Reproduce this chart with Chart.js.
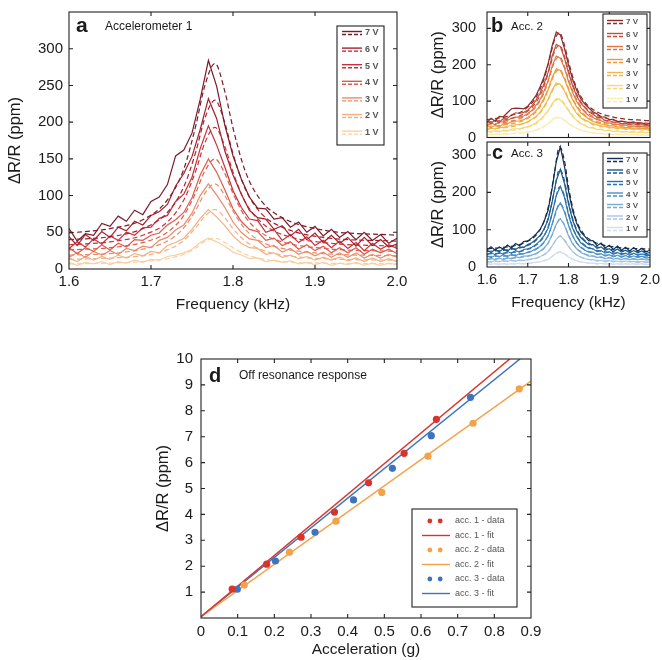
<!DOCTYPE html>
<html>
<head>
<meta charset="utf-8">
<script src="https://cdn.jsdelivr.net/npm/chart.js@4.4.0/dist/chart.umd.min.js"></script>
<style>
  body { margin: 0; background: #fff; width: 662px; height: 660px; overflow: hidden; position: relative; }
  canvas { position: absolute; }
</style>
</head>
<body>
<canvas id="chartA" width="410" height="320" style="left:0px;top:0px"></canvas>
<canvas id="chartB" width="242" height="148" style="left:420px;top:0px"></canvas>
<canvas id="chartC" width="242" height="190" style="left:420px;top:130px"></canvas>
<canvas id="chartD" width="402" height="320" style="left:140px;top:340px"></canvas>
<script>
// ---- data ----
const voltages = ['7 V', '6 V', '5 V', '4 V', '3 V', '2 V', '1 V'];

const freq = [1.60, 1.61, 1.62, 1.63, 1.64, 1.65, 1.66, 1.67, 1.68, 1.69, 1.70,
  1.71, 1.72, 1.73, 1.74, 1.75, 1.76, 1.77, 1.78, 1.79, 1.80,
  1.81, 1.82, 1.83, 1.84, 1.85, 1.86, 1.87, 1.88, 1.89, 1.90,
  1.91, 1.92, 1.93, 1.94, 1.95, 1.96, 1.97, 1.98, 1.99, 2.00];
const fitFreq = [1.60, 1.65, 1.69, 1.72, 1.74, 1.755, 1.765, 1.778, 1.79, 1.80, 1.815, 1.835, 1.86, 1.91, 2.00];

const freqTicks = [1.6, 1.7, 1.8, 1.9, 2.0];
const acc1Ticks = [0, 50, 100, 150, 200, 250, 300];
const acc23Ticks = [0, 100, 200, 300];
const accelTicks = [0, 0.1, 0.2, 0.3, 0.4, 0.5, 0.6, 0.7, 0.8, 0.9];
const responseTicks = [1, 2, 3, 4, 5, 6, 7, 8, 9, 10];

// accelerometer 1 (7 V ... 1 V)
const acc1Data = [
  [55,38,48,46,62,58,72,65,80,74,92,98,115,154,162,185,231,284,249,196,154,123,98,83,82,68,70,57,64,50,58,45,54,43,51,40,50,39,47,35,42],
  [44,32,47,39,51,43,57,52,65,60,73,78,88,113,130,153,190,232,205,161,128,102,80,70,68,54,59,45,54,40,49,36,46,35,43,31,43,32,40,30,34],
  [28,37,30,41,34,45,39,50,46,56,57,69,73,92,102,125,164,195,169,139,107,84,68,66,50,54,39,47,36,44,32,39,29,38,28,36,25,35,27,33,28],
  [29,21,29,24,33,26,35,30,40,39,46,49,60,67,77,97,128,150,132,108,82,65,54,51,39,42,32,37,27,33,25,31,22,29,22,29,20,27,22,27,21],
  [16,22,16,24,19,25,20,28,25,31,29,39,43,53,60,76,100,116,101,84,64,50,41,39,29,32,23,28,20,24,18,23,16,22,16,22,15,20,15,20,16],
  [15,10,17,12,17,13,19,15,21,18,24,22,32,36,42,54,69,81,71,59,45,35,29,28,20,22,16,19,14,17,12,16,12,16,11,15,10,15,10,14,10],
  [9,5,9,7,10,6,10,8,12,9,13,12,17,19,22,27,36,42,37,31,23,19,14,15,10,12,9,11,7,9,6,9,5,8,6,9,5,8,5,8,6]
];
const acc1Fit = [
  [49,55,67,94,136,197,247,280,242,192,133,92,70,53,46],
  [40,44,55,77,112,161,203,230,199,157,109,75,57,43,38],
  [33,37,46,64,94,135,170,193,167,132,91,63,47,36,31],
  [26,29,36,50,73,105,132,150,130,103,71,49,37,28,24],
  [19,21,27,38,56,81,102,116,100,79,54,37,28,21,18],
  [13,15,18,26,39,57,71,81,70,55,38,26,19,14,12],
  [7,8,10,14,20,29,37,42,36,29,20,14,10,8,7]
];

// accelerometer 2
const acc2Data = [
  [42,53,45,58,57,68,79,81,80,79,86,100,115,139,167,203,253,290,282,245,200,160,130,107,92,81,71,65,57,56,49,50,44,45,43,40,43,38,40,36,38],
  [45,39,48,42,52,53,62,68,66,69,75,87,102,121,148,179,224,256,250,218,178,143,114,95,82,70,64,56,54,47,46,42,42,38,39,36,38,34,35,34,33],
  [32,40,35,43,43,47,53,56,56,59,66,74,88,104,128,156,197,224,218,191,154,124,99,82,70,60,55,49,46,41,40,36,36,34,34,31,32,30,30,29,29],
  [32,27,34,29,38,38,43,45,46,49,55,63,73,88,108,132,165,189,184,161,131,104,84,68,59,51,44,41,37,35,32,32,29,29,27,27,26,26,25,25,24],
  [20,26,23,28,28,31,33,35,36,39,43,50,58,69,86,105,131,150,146,128,104,83,66,54,46,44,35,36,29,31,26,28,23,27,22,25,21,24,20,23,19],
  [18,14,19,15,20,18,23,24,24,27,30,34,40,49,60,74,93,107,103,90,73,58,47,38,34,27,27,21,23,18,20,16,18,15,17,14,16,13,16,12,15],
  [9,7,9,8,10,9,11,11,13,13,16,17,21,25,31,38,49,56,54,47,38,30,25,19,18,14,14,11,12,9,11,8,10,7,9,7,9,7,8,6,8]
];
const acc2Fit = [
  [49,58,75,110,161,222,266,288,254,209,151,105,77,56,46],
  [42,50,65,96,141,196,234,254,224,184,132,91,67,48,39],
  [36,43,57,84,123,172,206,223,196,161,116,79,58,41,34],
  [30,36,47,70,104,145,173,188,165,136,97,67,48,35,28],
  [24,28,38,56,82,115,137,149,131,107,77,53,38,27,22],
  [16,19,25,38,58,81,98,106,93,76,54,36,26,18,14],
  [8,10,13,20,30,42,51,55,48,39,28,19,13,9,7]
];

// accelerometer 3
const acc3Data = [
  [46,54,45,54,48,59,51,63,57,68,70,78,88,100,122,152,212,282,322,270,204,151,117,94,82,70,71,57,64,51,58,47,56,45,53,43,52,43,50,41,45],
  [45,39,47,41,49,43,51,47,54,52,60,65,74,84,101,127,175,232,262,224,169,126,97,79,69,60,60,50,54,45,49,41,48,40,45,38,44,38,43,36,39],
  [32,38,33,39,34,42,37,44,40,47,49,53,60,70,84,104,144,192,216,187,140,104,81,65,56,50,49,41,44,37,41,34,39,33,37,31,37,31,35,31,31],
  [30,25,31,27,33,28,34,30,36,35,40,43,49,55,67,83,115,153,172,148,112,83,64,52,45,40,40,33,36,29,33,27,32,26,31,25,30,25,29,24,26],
  [19,23,20,24,20,25,22,27,25,29,30,32,36,42,51,63,87,115,130,112,84,62,49,39,34,29,30,25,28,22,26,21,24,20,24,19,23,19,22,19,19],
  [15,13,17,14,17,15,18,15,19,17,20,22,24,28,33,41,57,74,84,71,55,41,32,26,22,20,20,16,18,14,17,14,16,13,16,13,15,12,15,12,14],
  [9,7,9,7,9,7,9,8,10,8,11,11,13,14,17,20,29,37,41,35,27,20,17,13,12,10,11,8,10,8,9,7,9,7,9,7,9,7,9,7,7]
];
const acc3Fit = [
  [49,54,64,85,123,184,250,322,285,215,139,92,69,54,48],
  [42,46,54,71,101,151,203,262,232,175,114,77,58,46,41],
  [35,38,44,58,83,124,167,215,191,144,94,63,48,38,33],
  [28,30,36,47,66,98,132,170,151,114,74,50,38,30,27],
  [21,23,27,35,50,74,100,128,114,86,56,38,29,23,20],
  [14,16,18,23,33,48,65,83,73,56,37,25,19,16,14],
  [8,8,9,12,17,24,32,41,36,28,19,13,10,8,7]
];

// off resonance response
const acc1AccelX = [0.085, 0.179, 0.273, 0.364, 0.457, 0.554, 0.642];
const acc1ResponseY = [1.12, 2.08, 3.12, 4.09, 5.22, 6.36, 7.67];
const acc2AccelX = [0.118, 0.241, 0.368, 0.493, 0.619, 0.742, 0.868];
const acc2ResponseY = [1.27, 2.54, 3.74, 4.85, 6.25, 7.52, 8.85];
const acc3AccelX = [0.099, 0.203, 0.311, 0.416, 0.522, 0.628, 0.735];
const acc3ResponseY = [1.11, 2.2, 3.31, 4.56, 5.78, 7.04, 8.52];
const acc1FitX = [0, 0.842], acc1FitY = [0.05, 10];
const acc2FitX = [0, 0.9],   acc2FitY = [0.05, 9.15];
const acc3FitX = [0, 0.87],  acc3FitY = [0.05, 10];

// ---- colours ----
const reds = ['#7b1a2a', '#a8202c', '#c8303a', '#dd5a4a', '#ec8a68', '#f4b080', '#f8d0a0'];
const oranges = ['#8c2d2d', '#c0503c', '#e07845', '#ec9a3a', '#f2b94a', '#f6d77a', '#faecb0'];
const blues = ['#14304f', '#1d5a8c', '#2a73ad', '#4a91c6', '#79acd4', '#a7c5e2', '#d2ddec'];
const cRed = '#d8342c', cOrange = '#f4a24a', cBlue = '#3d74bd';

const FONT = '"Liberation Sans", Arial, Helvetica, sans-serif';
const TXT = '#1a1a1a';

const fixedTicks = vals => s => { s.ticks = vals.map(v => ({ value: v })); };

// box with inward ticks on all four sides
const framePlugin = {
  id: 'frame',
  afterDatasetsDraw(chart) {
    const { ctx, chartArea: a, scales } = chart;
    ctx.save();
    ctx.strokeStyle = '#222';
    ctx.lineWidth = 1.1;
    ctx.setLineDash([]);
    ctx.strokeRect(a.left, a.top, a.right - a.left, a.bottom - a.top);
    const t = 4;
    const x = scales.x, y = scales.y;
    ctx.beginPath();
    x.ticks.forEach(tk => {
      if (tk.value <= x.min + 1e-9 || tk.value >= x.max - 1e-9) return;
      const px = x.getPixelForValue(tk.value);
      ctx.moveTo(px, a.bottom); ctx.lineTo(px, a.bottom - t);
      ctx.moveTo(px, a.top); ctx.lineTo(px, a.top + t);
    });
    y.ticks.forEach(tk => {
      if (tk.value <= y.min + 1e-9 || tk.value >= y.max - 1e-9) return;
      const py = y.getPixelForValue(tk.value);
      ctx.moveTo(a.left, py); ctx.lineTo(a.left + t, py);
      ctx.moveTo(a.right, py); ctx.lineTo(a.right - t, py);
    });
    ctx.stroke();
    ctx.restore();
  }
};

// legend box drawn by hand (double solid/dashed line keys, dots, lines)
const boxLegend = {
  id: 'boxLegend',
  afterDraw(chart, args, o) {
    if (!o.entries) return;
    const ctx = chart.ctx;
    ctx.save();
    ctx.fillStyle = '#fff';
    ctx.fillRect(o.x, o.y, o.w, o.h);
    ctx.strokeStyle = '#222';
    ctx.lineWidth = 1.1;
    ctx.strokeRect(o.x, o.y, o.w, o.h);
    ctx.font = o.font;
    ctx.textBaseline = 'middle';
    o.entries.forEach((e, i) => {
      const cy = o.y + o.first + i * o.rowH;
      const x0 = o.x + o.symX, x1 = x0 + o.symW;
      ctx.strokeStyle = e.color;
      ctx.fillStyle = e.color;
      ctx.lineWidth = 1.4;
      if (e.kind === 'double') {
        ctx.setLineDash([]);
        ctx.beginPath(); ctx.moveTo(x0, cy - 1.5); ctx.lineTo(x1, cy - 1.5); ctx.stroke();
        ctx.setLineDash([4, 2]);
        ctx.beginPath(); ctx.moveTo(x0, cy + 1.5); ctx.lineTo(x1, cy + 1.5); ctx.stroke();
        ctx.setLineDash([]);
      } else if (e.kind === 'line') {
        ctx.beginPath(); ctx.moveTo(x0, cy); ctx.lineTo(x1, cy); ctx.stroke();
      } else {
        [0.28, 0.65].forEach(f => {
          ctx.beginPath(); ctx.arc(x0 + o.symW * f, cy, 2.4, 0, Math.PI * 2); ctx.fill();
        });
      }
      ctx.fillStyle = o.textColor;
      ctx.fillText(e.label, x1 + o.gap, cy);
    });
    ctx.restore();
  }
};

// panel letters and captions
const panelText = {
  id: 'panelText',
  afterDraw(chart, args, o) {
    if (!o.items) return;
    const ctx = chart.ctx;
    ctx.save();
    ctx.textBaseline = 'alphabetic';
    o.items.forEach(it => {
      ctx.font = it.font;
      ctx.fillStyle = TXT;
      ctx.fillText(it.text, it.x, it.y);
    });
    ctx.restore();
  }
};

function spectrumChart(id, dataRows, fitRows, colors, yTicks, p) {
  const datasets = [];
  dataRows.forEach((vals, i) => {
    datasets.push({
      label: voltages[i],
      data: freq.map((f, k) => ({ x: f, y: vals[k] })),
      borderColor: colors[i], borderWidth: 1.2, pointRadius: 0, tension: 0
    });
    datasets.push({
      label: voltages[i] + ' fit',
      data: fitFreq.map((f, k) => ({ x: f, y: fitRows[i][k] })),
      borderColor: colors[i], borderWidth: 1.2, borderDash: [5, 3],
      pointRadius: 0, cubicInterpolationMode: 'monotone'
    });
  });
  return new Chart(document.getElementById(id), {
    type: 'line',
    data: { datasets },
    plugins: [framePlugin, boxLegend, panelText],
    options: {
      responsive: false, animation: false, events: [],
      layout: { padding: { left: 0, top: p.padTop, right: p.padRight, bottom: 0 } },
      plugins: {
        legend: { display: false }, tooltip: { enabled: false },
        boxLegend: Object.assign({
          entries: voltages.map((v, i) => ({ label: v, color: colors[i], kind: 'double' })),
          textColor: '#555'
        }, p.legend),
        panelText: { items: p.texts }
      },
      scales: {
        x: {
          type: 'linear', min: 1.6, max: 2.0,
          afterBuildTicks: fixedTicks(freqTicks),
          afterFit: s => { s.height = p.xh; },
          grid: { display: false, drawTicks: true, tickLength: 4 }, border: { display: false },
          ticks: {
            display: p.xLabels, autoSkip: false, maxRotation: 0,
            padding: 0, color: TXT, font: { family: FONT, size: p.tickSize },
            callback: v => v.toFixed(1)
          },
          title: {
            display: p.xLabels, text: 'Frequency (kHz)', color: TXT,
            font: { family: FONT, size: 15.5 }, padding: { top: 0, bottom: p.xTitlePad }
          }
        },
        y: {
          min: 0, max: p.ymax,
          afterBuildTicks: fixedTicks(yTicks),
          afterFit: s => { s.width = p.yw; },
          grid: { display: false, drawTicks: true, tickLength: p.yTickGap }, border: { display: false },
          ticks: {
            autoSkip: false, padding: 0, color: TXT,
            font: { family: FONT, size: p.tickSize }
          },
          title: {
            display: true, text: 'ΔR/R (ppm)', color: TXT,
            font: { family: FONT, size: 16.5 }, padding: { top: p.yTitlePad, bottom: 0 }
          }
        }
      }
    }
  });
}

// panel a
spectrumChart('chartA', acc1Data, acc1Fit, reds, acc1Ticks, {
  padTop: 12, padRight: 13, xh: 51, yw: 69, ymax: 350,
  xLabels: true, tickSize: 15, yTickGap: 6, xTitlePad: 6, yTitlePad: 6,
  legend: { x: 337, y: 26, w: 47, h: 119, first: 7, rowH: 16.6, symX: 5, symW: 20, gap: 3, font: 'bold 9px ' + FONT },
  texts: [
    { text: 'a', x: 76, y: 32, font: 'bold 21px ' + FONT },
    { text: 'Accelerometer 1', x: 105, y: 30, font: '12px ' + FONT }
  ]
});

// panel b
spectrumChart('chartB', acc2Data, acc2Fit, oranges, acc23Ticks, {
  padTop: 12, padRight: 12, xh: 10.5, yw: 67, ymax: 345,
  xLabels: false, tickSize: 14.5, yTickGap: 11, xTitlePad: 0, yTitlePad: 9,
  legend: { x: 183, y: 14, w: 44, h: 94, first: 8, rowH: 13, symX: 4, symW: 16, gap: 3, font: 'bold 8px ' + FONT },
  texts: [
    { text: 'b', x: 71, y: 32, font: 'bold 20px ' + FONT },
    { text: 'Acc. 2', x: 91, y: 30, font: '11.5px ' + FONT }
  ]
});

// panel c (canvas starts 10px above the plot so the top padding fits)
spectrumChart('chartC', acc3Data, acc3Fit, blues, acc23Ticks, {
  padTop: 12, padRight: 12, xh: 53, yw: 67, ymax: 335,
  xLabels: true, tickSize: 14.5, yTickGap: 11, xTitlePad: 8, yTitlePad: 9,
  legend: { x: 183, y: 23, w: 44, h: 84, first: 7, rowH: 11.5, symX: 4, symW: 16, gap: 3, font: 'bold 8px ' + FONT },
  texts: [
    { text: 'c', x: 72, y: 29, font: 'bold 20px ' + FONT },
    { text: 'Acc. 3', x: 91, y: 27, font: '11.5px ' + FONT }
  ]
});

// panel d
const pts = (xs, ys) => xs.map((x, i) => ({ x, y: ys[i] }));
new Chart(document.getElementById('chartD'), {
  type: 'scatter',
  data: {
    datasets: [
      { label: 'acc. 1 - data', data: pts(acc1AccelX, acc1ResponseY), backgroundColor: cRed, borderColor: cRed, pointRadius: 3.6, pointBorderWidth: 0 },
      { label: 'acc. 2 - data', data: pts(acc2AccelX, acc2ResponseY), backgroundColor: cOrange, borderColor: cOrange, pointRadius: 3.6, pointBorderWidth: 0 },
      { label: 'acc. 3 - data', data: pts(acc3AccelX, acc3ResponseY), backgroundColor: cBlue, borderColor: cBlue, pointRadius: 3.6, pointBorderWidth: 0 },
      { label: 'acc. 1 - fit', data: pts(acc1FitX, acc1FitY), showLine: true, borderColor: cRed, borderWidth: 1.5, pointRadius: 0 },
      { label: 'acc. 2 - fit', data: pts(acc2FitX, acc2FitY), showLine: true, borderColor: cOrange, borderWidth: 1.5, pointRadius: 0 },
      { label: 'acc. 3 - fit', data: pts(acc3FitX, acc3FitY), showLine: true, borderColor: cBlue, borderWidth: 1.5, pointRadius: 0 }
    ]
  },
  plugins: [framePlugin, boxLegend, panelText],
  options: {
    responsive: false, animation: false, events: [],
    layout: { padding: { left: 0, top: 19, right: 11, bottom: 0 } },
    plugins: {
      legend: { display: false }, tooltip: { enabled: false },
      boxLegend: {
        x: 272, y: 169, w: 105, h: 98, first: 12, rowH: 14.5, symX: 10, symW: 28, gap: 5,
        font: '9px ' + FONT, textColor: '#555',
        entries: [
          { label: 'acc. 1 - data', color: cRed, kind: 'dots' },
          { label: 'acc. 1 - fit', color: cRed, kind: 'line' },
          { label: 'acc. 2 - data', color: cOrange, kind: 'dots' },
          { label: 'acc. 2 - fit', color: cOrange, kind: 'line' },
          { label: 'acc. 3 - data', color: cBlue, kind: 'dots' },
          { label: 'acc. 3 - fit', color: cBlue, kind: 'line' }
        ]
      },
      panelText: {
        items: [
          { text: 'd', x: 69, y: 42, font: 'bold 20px ' + FONT },
          { text: 'Off resonance response', x: 99, y: 39, font: '12px ' + FONT }
        ]
      }
    },
    scales: {
      x: {
        type: 'linear', min: 0, max: 0.9,
        afterBuildTicks: fixedTicks(accelTicks),
        afterFit: s => { s.height = 42; },
        grid: { display: false, drawTicks: true, tickLength: 5 }, border: { display: false },
        ticks: {
          autoSkip: false, maxRotation: 0, padding: 0, color: TXT,
          font: { family: FONT, size: 15 },
          callback: v => (Math.abs(v) < 1e-9 ? '0' : v.toFixed(1))
        },
        title: {
          display: true, text: 'Acceleration (g)', color: TXT,
          font: { family: FONT, size: 15.5 }, padding: { top: 0, bottom: 1 }
        }
      },
      y: {
        min: 0, max: 10,
        afterBuildTicks: fixedTicks(responseTicks),
        afterFit: s => { s.width = 61; },
        grid: { display: false, drawTicks: true, tickLength: 8 }, border: { display: false },
        ticks: {
          autoSkip: false, padding: 0, color: TXT,
          font: { family: FONT, size: 15 }
        },
        title: {
          display: true, text: 'ΔR/R (ppm)', color: TXT,
          font: { family: FONT, size: 16.5 }, padding: { top: 14, bottom: 0 }
        }
      }
    }
  }
});
</script>
</body>
</html>
